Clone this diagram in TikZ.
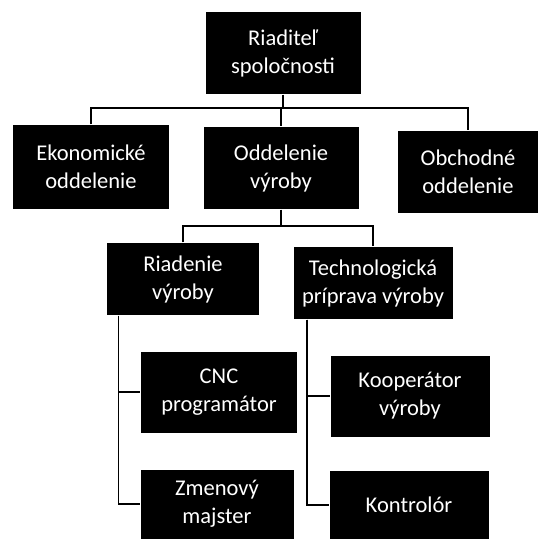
\documentclass[tikz,border=0pt]{standalone}
\usepackage{fontspec}
\setmainfont{Carlito}
\begin{document}
\begin{tikzpicture}[x=1pt,y=-1pt,line width=1.1pt,
	every node/.style={fill=black,text=white,align=center,inner sep=1pt,
		font=\fontsize{22.5}{28}\selectfont}]
	\useasboundingbox (0,0) rectangle (538,539);
	\node[minimum width=155pt,minimum height=82pt] (riaditel) at (283,53){Riaditeľ\\spoločnosti};
	\node[minimum width=156pt,minimum height=84pt] (ekon) at (91,167){Ekonomické\\oddelenie};
	\node[minimum width=155pt,minimum height=82pt] (vyroba) at (281,168){Oddelenie\\výroby};
	\node[minimum width=140pt,minimum height=82pt] (obch) at (468,172){Obchodné\\oddelenie};
	\node[minimum width=152pt,minimum height=72pt] (riadenie) at (183,279){Riadenie\\výroby};
	\node[minimum width=159pt,minimum height=72pt] (tech) at (373,283){Technologická\\príprava výroby};
	\node[minimum width=156pt,minimum height=81pt] (cnc) at (219,392){CNC\\programátor};
	\node[minimum width=153pt,minimum height=69pt] (zmena) at (217,504){Zmenový\\majster};
	\node[minimum width=159pt,minimum height=81pt] (koop) at (410,396){Kooperátor\\výroby};
	\node[minimum width=159pt,minimum height=68pt] (kontrola) at (409,505){Kontrolór};
	\coordinate (b1) at (283,108);
	\coordinate (b2) at (281,226);
	\draw (riaditel)--(b1);
	\draw (ekon.north)|-(b1)-|(obch.north);
	\draw (b1)-|(vyroba.north);
	\draw (vyroba)--(b2);
	\draw (riadenie.north)|-(b2)-|(tech.north);
	\draw ([xshift=12pt]riadenie.south west)|-(cnc.west);
	\draw ([xshift=12pt]riadenie.south west)|-(zmena.west);
	\draw ([xshift=14pt]tech.south west)|-(koop.west);
	\draw ([xshift=14pt]tech.south west)|-(kontrola.west);
\end{tikzpicture}
\end{document}
